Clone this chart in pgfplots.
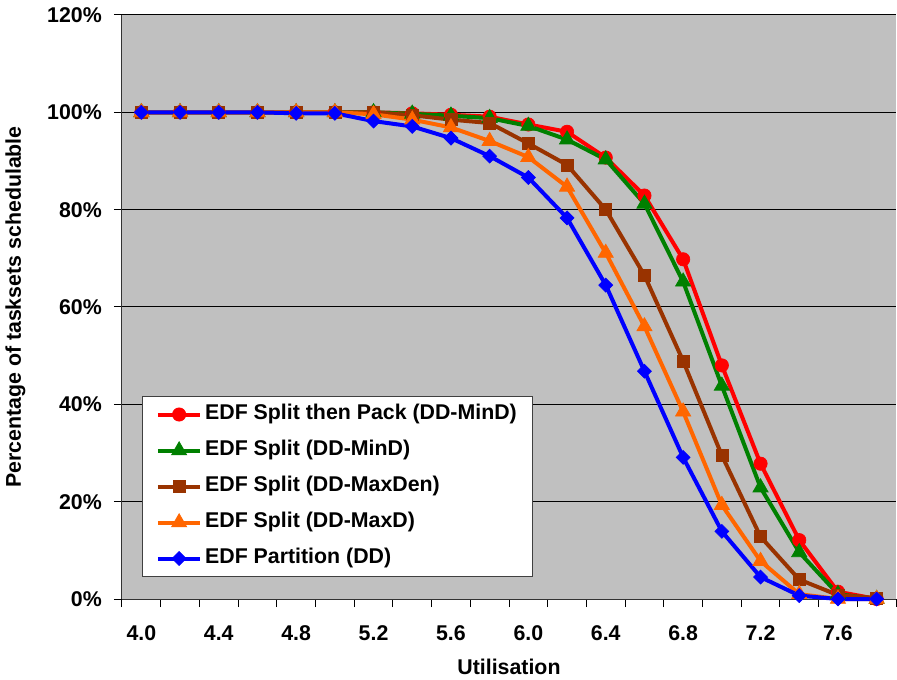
\documentclass[border=0pt]{standalone}
\usepackage{fontspec}
\setmainfont{Liberation Sans}
\usepackage{pgfplots}
\pgfplotsset{compat=1.18}

\definecolor{bgGray}{HTML}{C0C0C0}
\definecolor{sRed}{HTML}{FF0000}
\definecolor{sGreen}{HTML}{008000}
\definecolor{sBrown}{HTML}{993300}
\definecolor{sOrange}{HTML}{FF6600}
\definecolor{sBlue}{HTML}{0000FF}

\newcommand\cf{\fontsize{16}{19}\selectfont\bfseries}

\begin{document}
\begin{tikzpicture}
\begin{axis}[
    scale only axis,
    width=580.5pt, height=438pt,
    xmin=3.9, xmax=7.9,
    ymin=0, ymax=120,
    clip=false,
    axis background/.style={fill=bgGray},
    axis x line*=bottom,
    axis y line*=left,
    axis line style={black!80, line width=0.75pt},
    tick align=outside,
    major tick length=6pt,
    minor tick length=6pt,
    xtick={4.0,4.4,4.8,5.2,5.6,6.0,6.4,6.8,7.2,7.6},
    minor xtick={3.9,4.1,4.3,4.5,4.7,4.9,5.1,5.3,5.5,5.7,5.9,6.1,6.3,6.5,6.7,6.9,7.1,7.3,7.5,7.7,7.9},
    every major x tick/.append style={draw=none},
    every minor x tick/.append style={black, line width=0.75pt},
    every major y tick/.append style={black, line width=0.75pt},
    ytick={0,20,40,60,80,100,120},
    xticklabel={\pgfmathprintnumber[fixed,fixed zerofill,precision=1]{\tick}},
    yticklabel={\pgfmathprintnumber{\tick}\%},
    /pgf/number format/assume math mode=true,
    tick label style={font=\cf},
    xticklabel style={anchor=north, inner sep=0pt, yshift=-14pt},
    yticklabel style={anchor=east, inner sep=0pt, xshift=-9pt},
    ymajorgrids=true,
    major grid style={black, line width=0.75pt},
    xlabel={Utilisation},
    ylabel={Percentage of tasksets schedulable},
    label style={font=\cf},
    xlabel style={at={(axis description cs:0.5,-0.1301)}, anchor=base},
    ylabel style={at={(axis description cs:-0.1305,0.5)}, anchor=base},
    every axis plot/.append style={line width=3pt},
    legend style={
        at={(0.0258,0.3476)}, anchor=north west,
        draw=black!75, line width=0.75pt, fill=white,
        font=\cf,
        inner xsep=10pt, inner ysep=3.5pt,
        nodes={inner sep=2pt, text height=12pt, text depth=4pt},
        row sep=7pt,
        cells={anchor=west},
    },
    legend image code/.code={
        \draw[mark repeat=2,mark phase=2,#1] plot coordinates {(0pt,0pt) (16pt,0pt) (32pt,0pt)};
    },
]

\addplot[sRed, mark=*, mark size=5pt, mark options={solid, fill=sRed, line width=0.5pt}]
coordinates {
    (4.0,100) (4.2,100) (4.4,100) (4.6,100) (4.8,100) (5.0,100) (5.2,100)
    (5.4,99.8) (5.6,99.5) (5.8,99.1) (6.0,97.5) (6.2,96.0) (6.4,90.7)
    (6.6,82.9) (6.8,69.8) (7.0,48.0) (7.2,27.8) (7.4,12.1) (7.6,1.5) (7.8,0)
};
\addplot[sGreen, mark=triangle*, mark size=6.6pt, mark options={solid, fill=sGreen, line width=0.5pt}]
coordinates {
    (4.0,100) (4.2,100) (4.4,100) (4.6,100) (4.8,100) (5.0,100) (5.2,100)
    (5.4,99.7) (5.6,99.3) (5.8,98.8) (6.0,97.2) (6.2,94.4) (6.4,90.3)
    (6.6,81.2) (6.8,65.2) (7.0,43.8) (7.2,22.9) (7.4,9.6) (7.6,1.0) (7.8,0)
};
\addplot[sBrown, mark=square*, mark size=4.5pt, mark options={solid, fill=sBrown, line width=0.5pt}]
coordinates {
    (4.0,100) (4.2,100) (4.4,100) (4.6,100) (4.8,100) (5.0,100) (5.2,100)
    (5.4,99.4) (5.6,98.5) (5.8,97.8) (6.0,93.6) (6.2,89.2) (6.4,80.0)
    (6.6,66.5) (6.8,48.9) (7.0,29.5) (7.2,12.8) (7.4,4.0) (7.6,0.8) (7.8,0.2)
};
\addplot[sOrange, mark=triangle*, mark size=6.6pt, mark options={solid, fill=sOrange, line width=0.5pt}]
coordinates {
    (4.0,100) (4.2,100) (4.4,100) (4.6,100) (4.8,100) (5.0,100) (5.2,99.6)
    (5.4,98.5) (5.6,96.9) (5.8,94.1) (6.0,90.8) (6.2,84.7) (6.4,71.1)
    (6.6,56.0) (6.8,38.5) (7.0,19.3) (7.2,7.8) (7.4,1.0) (7.6,0) (7.8,0)
};
\addplot[sBlue, mark=square*, mark size=3.7pt, mark options={solid, rotate=45, fill=sBlue, line width=0.5pt}]
coordinates {
    (4.0,100) (4.2,100) (4.4,100) (4.6,100) (4.8,99.8) (5.0,99.8) (5.2,98.2)
    (5.4,97.1) (5.6,94.7) (5.8,91.0) (6.0,86.6) (6.2,78.3) (6.4,64.5)
    (6.6,46.8) (6.8,29.1) (7.0,13.9) (7.2,4.5) (7.4,0.7) (7.6,0) (7.8,0)
};
\legend{EDF Split then Pack (DD-MinD), EDF Split (DD-MinD), EDF Split (DD-MaxDen), EDF Split (DD-MaxD), EDF Partition (DD)}
\end{axis}
\path (current axis.south west) ++(-91.5pt,-60pt) rectangle ++(672.75pt,509.25pt);
\end{tikzpicture}
\end{document}
